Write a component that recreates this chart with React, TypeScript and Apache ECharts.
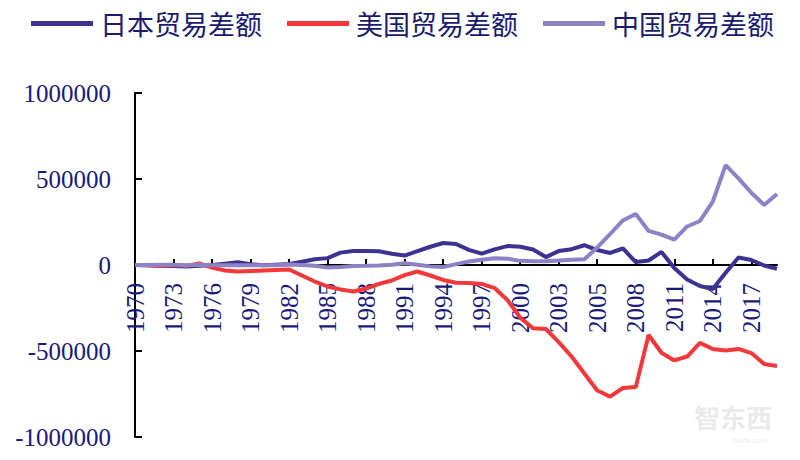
import React, { useEffect, useRef } from "react";
import * as echarts from "echarts";

const years: string[] = [
  "1970", "1971", "1972", "1973", "1974", "1975", "1976", "1977", "1978", "1979",
  "1980", "1981", "1982", "1983", "1984", "1985", "1986", "1987", "1988", "1989",
  "1990", "1991", "1992", "1993", "1994", "1995", "1996", "1997", "1998", "1999",
  "2000", "2001", "2002", "2003", "2004", "2004", "2005", "2006", "2007", "2008",
  "2009", "2010", "2011", "2012", "2013", "2014", "2015", "2016", "2017", "2018",
  "2019",
];

const seriesNames: string[] = ["日本贸易差额", "美国贸易差额", "中国贸易差额"];

const japanBalance: number[] = [
  0, -2000, -4000, -6000, -9000, -4000, 0, 8000, 16000, 5000, -2000,
  2000, 6000, 19000, 33000, 40000, 72000, 81000, 81000, 80000, 65000,
  55000, 81000, 106000, 128000, 122000, 88000, 66000, 91000, 110000, 106000,
  90000, 46000, 81000, 92000, 115000, 87000, 70000, 96000, 17000, 26000,
  76000, -17000, -84000, -122000, -140000, -45000, 44000, 29000, -3000, -22000,
];

const usBalance: number[] = [
  0, -2000, -5000, 0, -5000, 9000, -15000, -32000, -38000, -35000, -32000,
  -29000, -26000, -61000, -96000, -125000, -142000, -154000, -137000, -110000, -90000,
  -59000, -38000, -61000, -87000, -103000, -105000, -110000, -134000, -203000, -306000,
  -368000, -372000, -448000, -532000, -631000, -730000, -765000, -715000, -710000, -407000,
  -510000, -555000, -532000, -453000, -488000, -497000, -488000, -512000, -576000, -587000,
];

const chinaBalance: number[] = [
  0, 0, 1000, 1000, -1000, 1500, -1000, -1000, -2000, -2000, -2000,
  -1000, 3000, 0, -5000, -14000, -12000, -6000, -5000, -3000, 2000,
  10000, 2000, -8000, -12000, 5000, 20000, 30000, 39000, 37000, 24000,
  22500, 22000, 26000, 30000, 33000, 102000, 180000, 259000, 297000, 198000,
  177000, 148000, 224000, 256000, 369000, 581000, 504000, 420000, 349000, 413000,
];

const seriesColors: string[] = ["#3d3192", "#f4383a", "#8c82c6"];

const labelColor = "#1a1a7a";
const serif = "'Liberation Serif', 'Times New Roman', serif";

const GRID_TOP = 93;
const GRID_BOTTOM = 23;
const CHART_H = 460;

export default function App() {
  const ref = useRef<HTMLDivElement>(null);

  useEffect(() => {
    document.body.style.margin = "0";
    if (!ref.current) return;
    const chart = echarts.init(ref.current, undefined, { renderer: "svg" });
    const dataSets = [japanBalance, usBalance, chinaBalance];
    const gridHeight = CHART_H - GRID_TOP - GRID_BOTTOM;
    chart.setOption({
      animation: false,
      backgroundColor: "#ffffff",
      legend: {
        left: 26,
        top: 5,
        icon: "rect",
        itemWidth: 62,
        itemHeight: 5,
        itemGap: 25,
        data: seriesNames,
        textStyle: {
          fontFamily: "'Noto Sans CJK SC', sans-serif",
          fontSize: 27,
          color: "#1a1a6e",
          padding: [0, 0, 0, 2],
        },
      },
      grid: { left: 135, right: 23, top: GRID_TOP, bottom: GRID_BOTTOM, containLabel: false },
      xAxis: {
        type: "category",
        data: years,
        boundaryGap: false,
        position: "bottom",
        offset: -gridHeight / 2,
        axisLine: { onZero: false, lineStyle: { color: "#000", width: 2 } },
        axisTick: { show: true, inside: true, interval: 2, length: 6, lineStyle: { color: "#000", width: 2 } },
        axisLabel: {
          interval: 2,
          rotate: 90,
          margin: 18,
          fontFamily: serif,
          fontSize: 25,
          color: labelColor,
        },
        splitLine: { show: false },
      },
      yAxis: {
        type: "value",
        min: -1000000,
        max: 1000000,
        interval: 500000,
        axisLine: { show: true, onZero: false, lineStyle: { color: "#000", width: 2 } },
        axisTick: { show: true, inside: true, length: 7, lineStyle: { color: "#000", width: 2 } },
        axisLabel: {
          margin: 24,
          fontFamily: serif,
          fontSize: 25,
          color: labelColor,
          formatter: (v: number) => String(v),
        },
        splitLine: { show: false },
      },
      graphic: [
        {
          type: "text",
          right: 28,
          top: 403,
          silent: true,
          style: {
            text: "智东西",
            fontSize: 26,
            fontWeight: "bold",
            fontFamily: "'Noto Sans CJK SC', sans-serif",
            fill: "rgba(200,200,200,0.4)",
          },
        },
        {
          type: "text",
          right: 32,
          top: 436,
          silent: true,
          style: {
            text: "zhidx.com",
            fontSize: 8,
            fontFamily: "sans-serif",
            fill: "rgba(200,200,200,0.4)",
          },
        },
      ],
      series: seriesNames.map((name, i) => ({
        name,
        type: "line",
        data: dataSets[i],
        symbol: "none",
        showSymbol: false,
        color: seriesColors[i],
        lineStyle: { color: seriesColors[i], width: 4 },
        z: 2 + i,
      })),
    });
    return () => chart.dispose();
  }, []);

  return <div ref={ref} style={{ width: 800, height: 460 }} />;
}
